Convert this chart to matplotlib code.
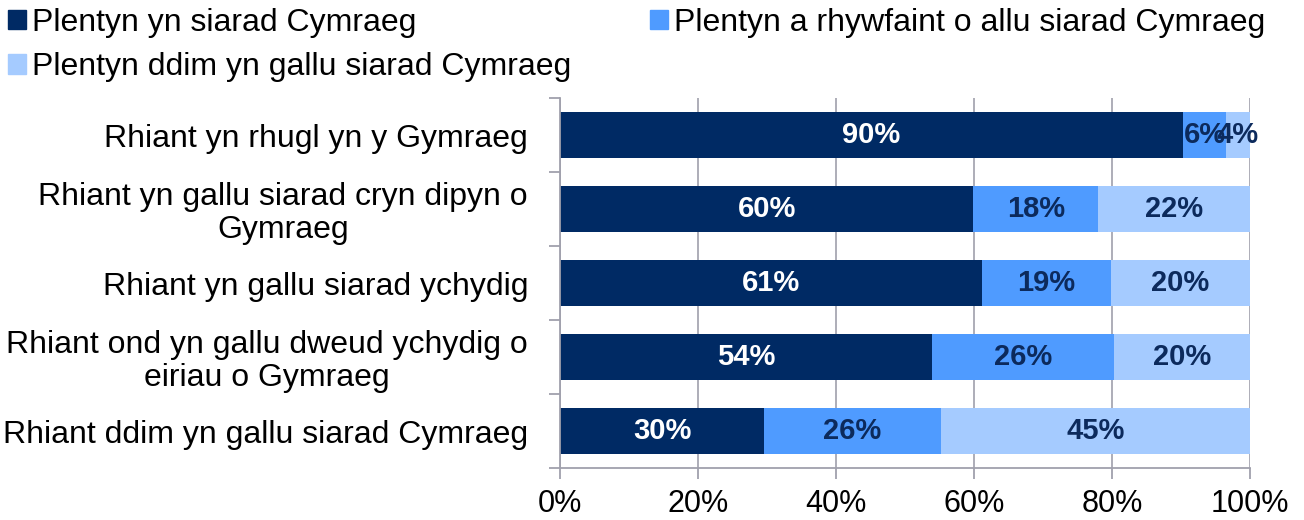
import matplotlib
matplotlib.use("Agg")
import matplotlib.pyplot as plt
import numpy as np
from matplotlib.patches import Patch

plt.rcParams['font.family'] = ['Liberation Sans', 'DejaVu Sans']

categories = [
    "Rhiant yn rhugl yn y Gymraeg",
    "Rhiant yn gallu siarad cryn dipyn o\nGymraeg",
    "Rhiant yn gallu siarad ychydig",
    "Rhiant ond yn gallu dweud ychydig o\neiriau o Gymraeg",
    "Rhiant ddim yn gallu siarad Cymraeg",
]
series_names = [
    "Plentyn yn siarad Cymraeg",
    "Plentyn a rhywfaint o allu siarad Cymraeg",
    "Plentyn ddim yn gallu siarad Cymraeg",
]
speaks = [90.3, 59.9, 61.2, 53.9, 29.6]
some = [6.2, 18.1, 18.6, 26.4, 25.6]
cannot = [3.5, 22.0, 20.2, 19.7, 44.8]
labels_speaks = ["90%", "60%", "61%", "54%", "30%"]
labels_some = ["6%", "18%", "19%", "26%", "26%"]
labels_cannot = ["4%", "22%", "20%", "20%", "45%"]
xticks = [0, 20, 40, 60, 80, 100]
xticklabels = ["0%", "20%", "40%", "60%", "80%", "100%"]

colors = ["#002a64", "#4f9bff", "#a5cbff"]
text_colors = ["white", "#0c2a5c", "#0c2a5c"]
axis_grey = '#a0a0ac'

fig = plt.figure(figsize=(13.04, 5.2), dpi=100)
ax = fig.add_axes([560/1304, 1-468/520, 690/1304, 370/520])

y = np.arange(len(categories))
left = np.zeros(len(categories))
for vals, labs, c, tc in zip([speaks, some, cannot],
                             [labels_speaks, labels_some, labels_cannot],
                             colors, text_colors):
    vals = np.array(vals)
    bars = ax.barh(y, vals, left=left, height=0.62, color=c, zorder=2)
    ax.bar_label(bars, labels=labs, label_type='center', color=tc,
                 fontsize=21, fontweight='bold')
    left = left + vals

ax.set_xlim(0, 100)
ax.set_ylim(len(categories) - 0.5, -0.5)
ax.set_xticks(xticks)
ax.set_xticklabels(xticklabels, fontsize=22)
ax.set_yticks(y)
ax.set_yticklabels(categories, fontsize=23, linespacing=1.1,
                   multialignment='center')
ax.set_yticks(np.arange(-0.5, len(categories)), minor=True)
ax.tick_params(axis='y', which='major', length=0, pad=23)
ax.tick_params(axis='y', which='minor', length=8, color=axis_grey, width=1.3)
ax.tick_params(axis='x', length=8, color=axis_grey, width=1.3, pad=7)
ax.grid(axis='x', color=axis_grey, linewidth=1.2, zorder=0)
for s in ['top', 'right']:
    ax.spines[s].set_visible(False)
for s in ['left', 'bottom']:
    ax.spines[s].set_color(axis_grey)
    ax.spines[s].set_linewidth(1.3)

handles = [Patch(color=c) for c in colors]
order = [0, 2, 1]
fig.legend([handles[i] for i in order], [series_names[i] for i in order],
           ncol=2, loc='upper left', bbox_to_anchor=(0.0, 1.0),
           borderaxespad=0.0, borderpad=0.25,
           frameon=False, fontsize=23, handlelength=0.55, handleheight=0.55,
           handletextpad=0.2, columnspacing=2.47, labelspacing=0.45)

fig.savefig("out.png", dpi=100)
